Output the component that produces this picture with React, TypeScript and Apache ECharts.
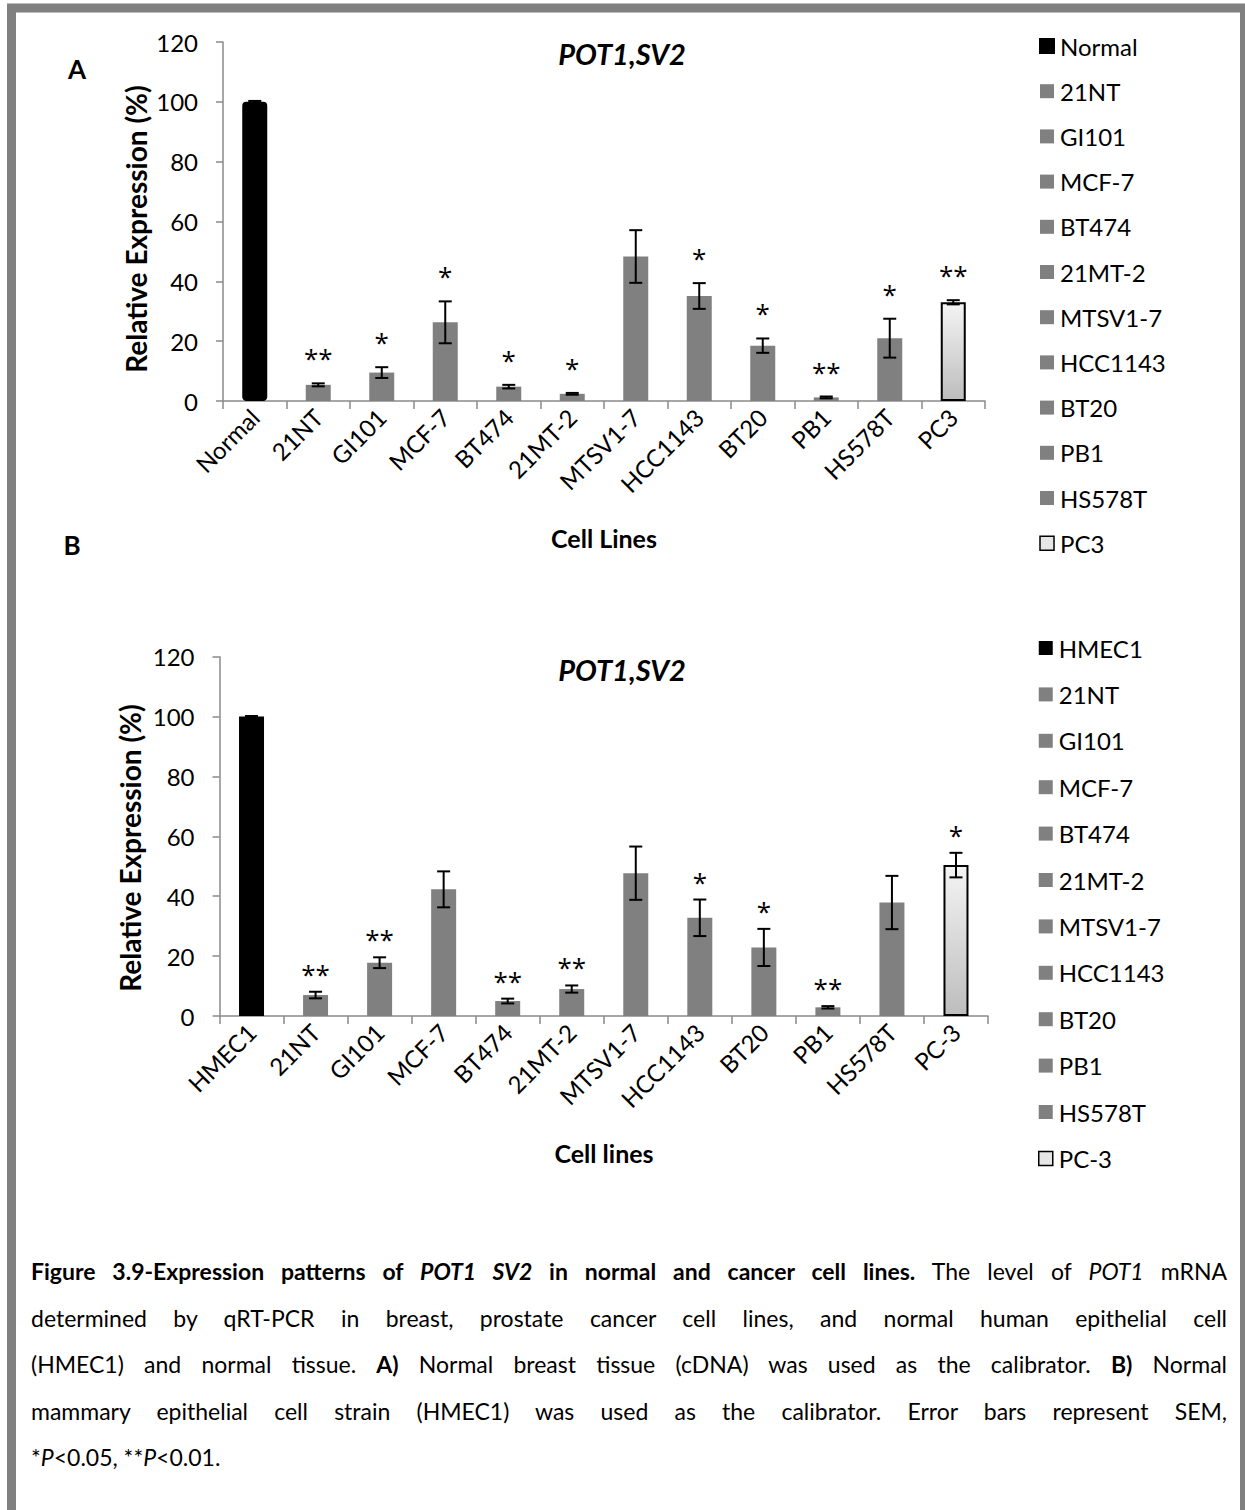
import React, { useEffect, useRef } from "react";
import * as echarts from "echarts";

// ---------- DATA ----------
const categoriesA = ["Normal", "21NT", "GI101", "MCF-7", "BT474", "21MT-2", "MTSV1-7", "HCC1143", "BT20", "PB1", "HS578T", "PC3"];
const valuesA = [100, 5.4, 9.5, 26.3, 4.8, 2.4, 48.3, 35.1, 18.5, 1.2, 21.0, 33.0];
const errorsA = [0.3, 0.5, 1.8, 7.0, 0.6, 0.3, 8.8, 4.3, 2.4, 0.3, 6.5, 0.7];
const sigA = ["", "**", "*", "*", "*", "*", "", "*", "*", "**", "*", "**"];

const categoriesB = ["HMEC1", "21NT", "GI101", "MCF-7", "BT474", "21MT-2", "MTSV1-7", "HCC1143", "BT20", "PB1", "HS578T", "PC-3"];
const valuesB = [100, 7.0, 17.8, 42.3, 5.0, 9.0, 47.7, 32.8, 22.9, 2.9, 37.9, 50.4];
const errorsB = [0.2, 1.1, 1.8, 6.0, 0.8, 1.2, 8.9, 6.1, 6.2, 0.4, 8.9, 4.1];
const sigB = ["", "**", "**", "", "**", "**", "", "*", "*", "**", "", "*"];

const yTicks = { min: 0, max: 120, interval: 20 };
const chartTitle = "POT1,SV2";
const yTitle = "Relative Expression (%)";
const xTitleA = "Cell Lines";
const xTitleB = "Cell lines";

// ---------- STYLE ----------
const FONT = "Lato";
const STAR_FONT = "'Open Sans'";
const GRAY = "#808080";
const AXIS = "#8a8a8a";

function barStyle(i: number, n: number, rounded: boolean) {
  if (i === 0) {
    return rounded
      ? { color: "#000", borderColor: "#000", borderWidth: 2, borderRadius: 3 }
      : { color: "#000" };
  }
  if (i === n - 1) {
    return {
      color: new echarts.graphic.LinearGradient(0, 0, 0, 1, [
        { offset: 0, color: "#f4f4f4" },
        { offset: 1, color: "#bdbdbd" },
      ]),
      borderColor: "#000",
      borderWidth: 2,
    };
  }
  return { color: GRAY };
}

function legendStyle(i: number, n: number, rounded: boolean) {
  if (i === 0) {
    return rounded
      ? { color: "#000", borderColor: "#000", borderWidth: 2 }
      : { color: "#000", borderWidth: 0 };
  }
  if (i === n - 1) return { color: "#e6e6e6", borderColor: "#000", borderWidth: 1.5 };
  return { color: GRAY, borderWidth: 0 };
}

function buildPanel(
  idx: number,
  cats: string[],
  vals: number[],
  errs: number[],
  sigs: string[],
  rounded: boolean,
  sigGap: number
) {
  const n = cats.length;
  const bars = cats.map((c, i) => ({
    type: "bar",
    name: c,
    xAxisIndex: idx,
    yAxisIndex: idx,
    stack: "panel" + idx,
    barWidth: 25,
    itemStyle: barStyle(i, n, rounded),
    data: cats.map((_, j) => (j === i ? vals[i] : "-")),
    z: 2,
  }));
  const err = {
    type: "custom",
    name: "err" + idx,
    xAxisIndex: idx,
    yAxisIndex: idx,
    z: 5,
    data: cats.map((_, i) => [i, vals[i], errs[i]]),
    encode: { x: 0, y: 1 },
    renderItem: (params: any, api: any) => {
      const i = api.value(0);
      const v = api.value(1);
      const e = api.value(2);
      const top = api.coord([i, v + e]);
      const bot = api.coord([i, v - e]);
      const hw = 6.5;
      const st = { stroke: "#000", lineWidth: 2 };
      const children: any[] = [
        { type: "line", shape: { x1: top[0], y1: top[1], x2: bot[0], y2: bot[1] }, style: st },
        { type: "line", shape: { x1: top[0] - hw, y1: top[1], x2: top[0] + hw, y2: top[1] }, style: st },
        { type: "line", shape: { x1: bot[0] - hw, y1: bot[1], x2: bot[0] + hw, y2: bot[1] }, style: st },
      ];
      const s = sigs[params.dataIndex];
      if (s) {
        children.push({
          type: "text",
          x: top[0],
          y: top[1] - sigGap,
          style: {
            text: s,
            fill: "#000",
            font: `26px ${STAR_FONT}`,
            align: "center",
            verticalAlign: "middle",
          },
        });
      }
      return { type: "group", children };
    },
  };
  return [...bars, err];
}

function buildOption() {
  const xAxisBase = (cats: string[], gridIndex: number) => ({
    type: "category",
    gridIndex,
    data: cats,
    boundaryGap: true,
    axisLine: { lineStyle: { color: AXIS, width: 1.5 } },
    axisTick: { show: true, length: 8, lineStyle: { color: AXIS, width: 1.5 } },
    axisLabel: { rotate: 45, margin: 12, interval: 0, fontSize: 24, fontFamily: FONT, color: "#000" },
    splitLine: { show: false },
  });
  const yAxisBase = (gridIndex: number) => ({
    type: "value",
    gridIndex,
    min: yTicks.min,
    max: yTicks.max,
    interval: yTicks.interval,
    axisLine: { show: true, lineStyle: { color: AXIS, width: 1.5 } },
    axisTick: { show: true, length: 7, lineStyle: { color: AXIS, width: 1.5 } },
    axisLabel: { margin: 25, fontSize: 24, fontFamily: FONT, color: "#000" },
    splitLine: { show: false },
  });
  const legendBase = (cats: string[], top: number, left: number, gap: number, rounded: boolean) => ({
    orient: "vertical",
    left,
    top,
    itemWidth: 14,
    itemHeight: 14,
    itemGap: gap,
    selectedMode: false,
    textStyle: { fontSize: 24, fontFamily: FONT, color: "#000", lineHeight: 24, padding: [0, 0, 0, 1] },
    data: cats.map((c, i) => ({
      name: c,
      icon: "rect",
      itemStyle: legendStyle(i, cats.length, rounded),
    })),
  });

  return {
    animation: false,
    backgroundColor: "#fff",
    grid: [
      { left: 223, right: 260, top: 42, height: 359, containLabel: false },
      { left: 219.5, right: 257, top: 656.7, height: 359.3, containLabel: false },
    ],
    xAxis: [xAxisBase(categoriesA, 0), xAxisBase(categoriesB, 1)],
    yAxis: [yAxisBase(0), yAxisBase(1)],
    legend: [
      legendBase(categoriesA, 29, 1034, 21.2, true),
      legendBase(categoriesB, 631, 1033, 22.4, false),
    ],
    series: [
      ...buildPanel(0, categoriesA, valuesA, errorsA, sigA, true, 25),
      ...buildPanel(1, categoriesB, valuesB, errorsB, sigB, false, 18),
    ],
    graphic: [
      {
        type: "rect",
        silent: true,
        shape: { x: 11.5, y: 8, width: 1233, height: 1530 },
        style: { fill: "none", stroke: GRAY, lineWidth: 9 },
        z: 100,
      },
      { type: "text", x: 77, y: 69, style: { text: "A", font: `bold 26px ${FONT}`, fill: "#000", align: "center", verticalAlign: "middle" } },
      { type: "text", x: 72, y: 545, style: { text: "B", font: `bold 26px ${FONT}`, fill: "#000", align: "center", verticalAlign: "middle" } },
      { type: "text", x: 622, y: 53, style: { text: chartTitle, font: `italic bold 29px ${FONT}`, fill: "#000", align: "center", verticalAlign: "middle" } },
      { type: "text", x: 622, y: 669, style: { text: chartTitle, font: `italic bold 29px ${FONT}`, fill: "#000", align: "center", verticalAlign: "middle" } },
      { type: "text", x: 136, y: 229, rotation: Math.PI / 2, style: { text: yTitle, font: `bold 28px ${FONT}`, fill: "#000", align: "center", verticalAlign: "middle" } },
      { type: "text", x: 130, y: 848, rotation: Math.PI / 2, style: { text: yTitle, font: `bold 28px ${FONT}`, fill: "#000", align: "center", verticalAlign: "middle" } },
      { type: "text", x: 604, y: 538, style: { text: xTitleA, font: `bold 25px ${FONT}`, fill: "#000", align: "center", verticalAlign: "middle" } },
      { type: "text", x: 604, y: 1153, style: { text: xTitleB, font: `bold 25px ${FONT}`, fill: "#000", align: "center", verticalAlign: "middle" } },
    ],
  };
}

const lineStyle: React.CSSProperties = {
  height: 46.5,
  lineHeight: "46.5px",
  whiteSpace: "nowrap",
  textAlign: "justify",
  textAlignLast: "justify" as any,
};

export default function App() {
  const ref = useRef<HTMLDivElement>(null);
  useEffect(() => {
    if (!ref.current) return;
    const chart = echarts.init(ref.current, null, { renderer: "svg", width: 1245, height: 1510 });
    chart.setOption(buildOption() as any);
    return () => chart.dispose();
  }, []);
  return (
    <div style={{ position: "absolute", left: 0, top: 0, width: 1245, height: 1510, background: "#fff", overflow: "hidden" }}>
      <div ref={ref} style={{ position: "absolute", left: 0, top: 0, width: 1245, height: 1510 }} />
      <div
        style={{
          position: "absolute",
          left: 31,
          top: 1248,
          width: 1196,
          fontFamily: FONT,
          fontSize: 23,
          color: "#000",
        }}
      >
        <div style={lineStyle}>
          <b>
            Figure 3.9-Expression patterns of <i>POT1 SV2</i> in normal and cancer cell lines.
          </b>{" "}
          The level of <i>POT1</i> mRNA
        </div>
        <div style={lineStyle}>
          determined by qRT-PCR in breast, prostate cancer cell lines, and normal human epithelial cell
        </div>
        <div style={lineStyle}>
          (HMEC1) and normal tissue. <b>A)</b> Normal breast tissue (cDNA) was used as the calibrator. <b>B)</b> Normal
        </div>
        <div style={lineStyle}>
          mammary epithelial cell strain (HMEC1) was used as the calibrator. Error bars represent SEM,
        </div>
        <div style={{ ...lineStyle, textAlignLast: "left" as any }}>
          *<i>P</i>&lt;0.05, **<i>P</i>&lt;0.01.
        </div>
      </div>
    </div>
  );
}
